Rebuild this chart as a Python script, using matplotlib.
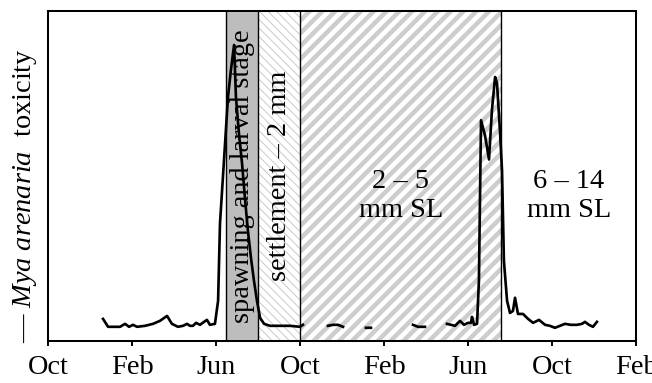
import numpy as np
import matplotlib
matplotlib.use("Agg")
import matplotlib.pyplot as plt

plt.rcParams['font.family'] = ['Liberation Serif', 'DejaVu Serif']
plt.rcParams['mathtext.fontset'] = 'custom'
plt.rcParams['mathtext.rm'] = 'Liberation Serif'
plt.rcParams['mathtext.it'] = 'Liberation Serif:italic'

# months counted from the first October on the axis; NaN = gap in the record
months = [2.62, 2.86, 3.10, 3.43, 3.67, 3.86, 4.05, 4.24, 4.62, 5.00, 5.33, 5.67,
          5.90, 6.19, 6.43, 6.62, 6.76, 6.90, 7.05, 7.24, 7.43, 7.57, 7.71, 7.95,
          8.10, 8.19, 8.38, 8.57, 8.71, 8.86, 8.95, 9.10, 9.24, 9.38, 9.52, 9.67,
          9.81, 9.95, 10.10, 10.29, 10.57, 11.05, 11.52, 12.00, 12.14, np.nan,
          13.33, 13.57, 13.81, 14.05, np.nan,
          15.14, 15.38, np.nan,
          17.38, 17.62, 17.95, np.nan,
          19.00, 19.19, 19.38, 19.62, 19.81, 20.00, 20.14, 20.19, 20.29, 20.43,
          20.52, 20.57, 20.62, 20.81, 21.00, 21.14, 21.29, 21.38, 21.52, 21.62,
          21.71, 21.86, 22.00, 22.14, 22.24, 22.38, 22.62, 22.86, 23.10, 23.38,
          23.67, 23.90, 24.14, 24.38, 24.62, 24.90, 25.19, 25.43, 25.57, 25.76,
          25.95, 26.14]
toxicity = [6.7, 4.3, 4.3, 4.3, 5.2, 4.3, 4.9, 4.3, 4.6, 5.2, 6.1, 7.6,
            5.2, 4.3, 4.6, 5.2, 4.6, 4.6, 5.5, 4.9, 5.8, 6.4, 4.9, 5.2,
            12.2, 35.6, 54.7, 73.9, 82.1, 89.7, 73.9, 62.3, 53.8, 43.2, 33.4, 24.9,
            18.2, 12.2, 7.0, 5.2, 4.6, 4.6, 4.6, 4.3, 4.9, np.nan,
            4.6, 4.9, 4.9, 4.3, np.nan,
            4.0, 4.0, np.nan,
            4.9, 4.3, 4.3, np.nan,
            5.2, 4.9, 4.6, 6.1, 4.9, 5.5, 5.5, 7.3, 4.9, 5.2,
            18.2, 42.6, 66.9, 62.3, 55.0, 70.0, 80.0, 78.2, 63.9, 51.7,
            24.3, 12.2, 8.5, 9.1, 13.1, 8.2, 8.2, 6.7, 5.5, 6.4,
            4.9, 4.6, 4.0, 4.6, 5.2, 4.9, 4.9, 5.2, 5.8, 4.9,
            4.3, 5.8]

tick_pos = [0, 4, 8, 12, 16, 20, 24, 28]
tick_labels = ['Oct', 'Feb', 'Jun', 'Oct', 'Feb', 'Jun', 'Oct', 'Feb']

# stage boundaries (months)
spawn_start, settle_start, juv_start, large_start = 8.48, 10.0, 12.0, 21.56

DPI = 77
fig = plt.figure(figsize=(652 / DPI, 383 / DPI), dpi=DPI)
ax = fig.add_axes([48 / 652, 42 / 383, 588 / 652, 330 / 383])

FS = 26.5

# stage shading
sp = ax.axvspan(spawn_start, settle_start, facecolor='#bdbdbd', edgecolor='none', lw=0, zorder=1)
fine = ax.axvspan(settle_start, juv_start, facecolor='white', edgecolor='#c2c2c2',
                  hatch='\\\\\\', lw=0, zorder=1)
wide = ax.axvspan(juv_start, large_start, facecolor='white', edgecolor='#cdcdcd',
                  hatch='//', lw=0, zorder=1)
if hasattr(fine, 'set_hatch_linewidth'):
    fine.set_hatch_linewidth(0.8)
    wide.set_hatch_linewidth(4.2)
else:
    plt.rcParams['hatch.linewidth'] = 2.5

for xb in [spawn_start, settle_start, juv_start, large_start]:
    ax.axvline(xb, color='black', lw=1.3, zorder=2)

ax.plot(months, toxicity, color='black', lw=2.5, zorder=3, solid_joinstyle='round')

ax.text((spawn_start + settle_start) / 2 + 0.02, 50, 'spawning and larval stage',
        rotation=90, ha='center', va='center', fontsize=FS, zorder=4)
ax.text((settle_start + juv_start) / 2, 50, 'settlement \u2013 2 mm',
        rotation=90, ha='center', va='center', fontsize=FS, zorder=4)
ax.text(16.8, 44, '2 \u2013 5\nmm SL', ha='center', va='center', fontsize=FS, zorder=4)
ax.text(24.8, 44, '6 \u2013 14\nmm SL', ha='center', va='center', fontsize=FS, zorder=4)

ax.set_xlim(0, 28)
ax.set_ylim(0, 100)
ax.set_xticks(tick_pos)
ax.set_xticklabels(tick_labels, fontsize=FS)
ax.set_yticks([])
ax.tick_params(axis='x', direction='out', length=5, width=1.8, pad=8)
for s in ax.spines.values():
    s.set_linewidth(1.9)
    s.set_zorder(5)

fig.text(25 / 652, 1 - 196 / 383, '\u2014 $\\mathit{Mya\\ arenaria}$  toxicity',
         rotation=90, ha='center', va='center', fontsize=FS)

fig.savefig('out.png', dpi=DPI)
